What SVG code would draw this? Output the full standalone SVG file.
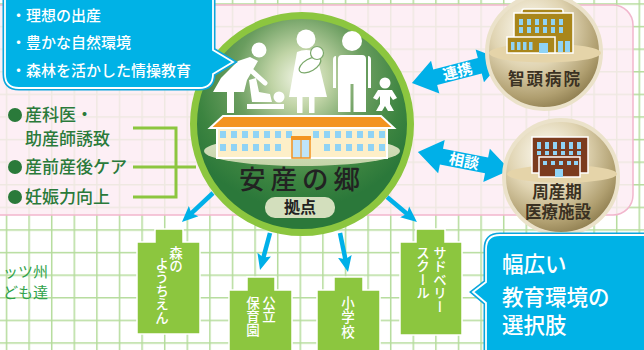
<svg xmlns="http://www.w3.org/2000/svg" width="644" height="350" viewBox="0 0 644 350">
  <style>
    text { font-family: "Noto Sans CJK JP", "Noto Sans", sans-serif; }
    .white { fill: #ffffff; }
    .callout-txt { fill: #ffffff; font-weight: 500; }
    .list-txt { fill: #2a7a3a; font-size: 17px; font-weight: 500; }
    .box { fill: #8cc63f; stroke: #ffffff; stroke-width: 1.5; }
    .box-txt { fill: #ffffff; font-size: 13.5px; writing-mode: vertical-rl; font-weight: 500; }
    .hosp-txt { fill: #3a3122; font-size: 16.5px; font-weight: 700; text-anchor: middle; }
    .arrow-down { stroke: #00b0e8; stroke-width: 4.5; fill: none; marker-end: url(#tip); }
    .bracket { stroke: #8cc63f; stroke-width: 3; fill: none; }
    .dbl { fill: #00b0e8; }
    .win { fill: #8fd3f5; }
  </style>
  <defs>
    <pattern id="grid" patternUnits="userSpaceOnUse" x="5.75" y="3.25" width="22.6" height="22.6">
      <path d="M0.75,0 V22.6 M0,0.75 H22.6" stroke="#b5dc9c" stroke-width="1.5" fill="none"/>
    </pattern>
    <radialGradient id="mainG" gradientUnits="userSpaceOnUse" cx="300" cy="78" r="130">
      <stop offset="0" stop-color="#f1f5e6"/>
      <stop offset="0.22" stop-color="#c0d4a6"/>
      <stop offset="0.5" stop-color="#6a9d5f"/>
      <stop offset="0.8" stop-color="#3c8440"/>
      <stop offset="1" stop-color="#2b783a"/>
    </radialGradient>
    <radialGradient id="sph" cx="0.38" cy="0.3" r="0.75">
      <stop offset="0" stop-color="#fffdf6"/>
      <stop offset="0.45" stop-color="#e0d4b2"/>
      <stop offset="0.8" stop-color="#b09f70"/>
      <stop offset="1" stop-color="#8a794b"/>
    </radialGradient>
    <linearGradient id="ground" x1="0" y1="0" x2="0" y2="1">
      <stop offset="0" stop-color="#d8e2c2"/>
      <stop offset="1" stop-color="#c4d4a8"/>
    </linearGradient>
    <marker id="tip" markerUnits="userSpaceOnUse" viewBox="0 0 16 16" markerWidth="16" markerHeight="16" refX="8" refY="8" orient="auto">
      <path d="M0,1 L16,8 L0,15 L3,8 Z" fill="#00b0e8"/>
    </marker>
  </defs>

  <!-- background grid and pink panel -->
  <rect width="644" height="350" fill="#ffffff"/>
  <rect width="644" height="350" fill="url(#grid)"/>
  <rect x="-20" y="5" width="653" height="210" rx="20" fill="#fdebf2" fill-opacity="0.8" stroke="#f2b6cd" stroke-width="1.5"/>

  <!-- connectors -->
  <g id="connectors">
    <path class="bracket" d="M133,128 H176 V197 H133 M133,167 H196"/>
    <line class="arrow-down" x1="213" y1="193" x2="187.8" y2="216.6"/>
    <line class="arrow-down" x1="270" y1="233" x2="262.1" y2="262.3"/>
    <line class="arrow-down" x1="340" y1="233" x2="346.4" y2="264.2"/>
    <line class="arrow-down" x1="387" y1="197" x2="410.8" y2="216.9"/>
    <g transform="translate(457.5,71.5) rotate(-14.2)">
      <polygon class="dbl" points="-47,0 -23,-17 -23,-8 23,-8 23,-17 47,0 23,17 23,8 -23,8 -23,17"/>
      <text x="0" y="5.5" class="white" font-size="15" font-weight="700" text-anchor="middle">連携</text>
    </g>
    <g transform="translate(464,161) rotate(11.1)">
      <polygon class="dbl" points="-47,0 -23,-17 -23,-8 23,-8 23,-17 47,0 23,17 23,8 -23,8 -23,17"/>
      <text x="0" y="5.5" class="white" font-size="15" font-weight="700" text-anchor="middle">相談</text>
    </g>
  </g>

  <!-- left list of goals -->
  <g id="goals">
    <circle cx="15" cy="115" r="7" fill="#2a7a3a"/>
    <text class="list-txt" x="25" y="121">産科医・</text>
    <text class="list-txt" x="25" y="145">助産師誘致</text>
    <circle cx="15" cy="167" r="7" fill="#2a7a3a"/>
    <text class="list-txt" x="25" y="173">産前産後ケア</text>
    <circle cx="15" cy="197" r="7" fill="#2a7a3a"/>
    <text class="list-txt" x="25" y="203">妊娠力向上</text>
  </g>

  <!-- partly visible note at the left edge -->
  <g id="edge-note" fill="#2fa24a" font-size="15" text-anchor="end">
    <text x="48" y="277">ッツ州</text>
    <text x="48" y="298">ども達</text>
  </g>

  <!-- central hub -->
  <g id="hub">
    <circle cx="302" cy="124" r="108.5" fill="url(#mainG)" stroke="#8cc63f" stroke-width="7"/>
    <ellipse cx="302" cy="151" rx="98" ry="15" fill="url(#ground)"/>
    <!-- people -->
    <g fill="#ffffff">
      <!-- caregiver at changing table -->
      <circle cx="259" cy="50" r="7.5"/>
      <path d="M250,57 L258,61 L247,80 L244,92 L213,92 L221,78 L238,61 Z"/>
      <path d="M246,66 L265,83" stroke="#ffffff" stroke-width="5" stroke-linecap="round"/>
      <rect x="227" y="91" width="7" height="22"/>
      <circle cx="279" cy="97" r="5.5"/>
      <path d="M249,80 L256,78 L259,92 L270,94 L272,102 L252,102 Z"/>
      <rect x="247" y="104" width="37" height="5"/>
      <!-- woman holding baby -->
      <circle cx="306" cy="39" r="9.5"/>
      <path d="M297,52 Q306,48 316,52 L327,97 L289,97 Z"/>
      <rect x="297" y="96" width="5.5" height="17"/>
      <rect x="309" y="96" width="5.5" height="17"/>
      <ellipse cx="310" cy="65" rx="12" ry="6" transform="rotate(-30 310 65)" stroke="#7aa86a" stroke-width="1.2"/>
      <circle cx="317" cy="53" r="6.5" stroke="#7aa86a" stroke-width="1.2"/>
      <!-- man -->
      <circle cx="352" cy="41" r="10"/>
      <path d="M342,55 H362 Q366,55 366,59 V112 H353.5 V84 H350.5 V112 H338 V59 Q338,55 342,55 Z"/>
      <path d="M333,60 Q333,56 336,56 V88 H333 Z M371,60 Q371,56 368,56 V88 H371 Z"/>
      <!-- small child -->
      <circle cx="385" cy="83" r="5.5"/>
      <path d="M378,90 H392 L397,98 L393,100 L390,96 V104 L394,111 H388 L385,106 L382,111 H376 L380,104 V96 L377,100 L373,98 Z"/>
    </g>
    <!-- school building -->
    <rect x="217" y="127" width="170" height="31" fill="#fdefc8" stroke="#ffffff" stroke-width="2"/>
    <polygon points="223,116 381,116 394,128 210,128" fill="#f39420" stroke="#ffffff" stroke-width="2"/>
    <g class="win">
      <rect x="220" y="131" width="6" height="7"/><rect x="231" y="131" width="6" height="7"/><rect x="242" y="131" width="6" height="7"/><rect x="253" y="131" width="6" height="7"/><rect x="264" y="131" width="6" height="7"/><rect x="275" y="131" width="6" height="7"/><rect x="286" y="131" width="6" height="7"/>
      <rect x="313" y="131" width="6" height="7"/><rect x="324" y="131" width="6" height="7"/><rect x="335" y="131" width="6" height="7"/><rect x="346" y="131" width="6" height="7"/><rect x="357" y="131" width="6" height="7"/><rect x="368" y="131" width="6" height="7"/><rect x="379" y="131" width="6" height="7"/>
      <rect x="220" y="144" width="6" height="7"/><rect x="231" y="144" width="6" height="7"/><rect x="242" y="144" width="6" height="7"/><rect x="253" y="144" width="6" height="7"/><rect x="264" y="144" width="6" height="7"/><rect x="275" y="144" width="6" height="7"/>
      <rect x="324" y="144" width="6" height="7"/><rect x="335" y="144" width="6" height="7"/><rect x="346" y="144" width="6" height="7"/><rect x="357" y="144" width="6" height="7"/><rect x="368" y="144" width="6" height="7"/><rect x="379" y="144" width="6" height="7"/>
    </g>
    <rect x="292" y="137" width="18" height="21" fill="#bfe4f8" stroke="#f39420" stroke-width="1.5"/>
    <rect x="291" y="136" width="20" height="4" fill="#f39420"/>
    <line x1="301" y1="140" x2="301" y2="158" stroke="#f39420" stroke-width="1.2"/>
    <text x="302" y="189" font-size="26.5" fill="#222222" text-anchor="middle" letter-spacing="5" font-weight="500">安産の郷</text>
    <rect x="265" y="197" width="70" height="21" rx="10" fill="#d3dfbd"/>
    <text x="300" y="213" font-size="16" fill="#222222" text-anchor="middle" font-weight="700">拠点</text>
  </g>

  <!-- top-left callout -->
  <g id="ideals">
    <path d="M19,-15 H199 Q213,-15 213,-1 V50 L233,62 L213,74 V74 Q213,88 199,88 H19 Q5,88 5,74 V-1 Q5,-15 19,-15 Z" fill="#00b2e6" stroke="#0aa6dc" stroke-width="5"/>
    <path d="M19,-15 H199 Q213,-15 213,-1 V50 L233,62 L213,74 V74 Q213,88 199,88 H19 Q5,88 5,74 V-1 Q5,-15 19,-15 Z" fill="#00b2e6" stroke="#ffffff" stroke-width="1.8"/>
    <text class="callout-txt" x="11" y="20.5" font-size="15">・理想の出産</text>
    <text class="callout-txt" x="11" y="48" font-size="15">・豊かな自然環境</text>
    <text class="callout-txt" x="11" y="75.5" font-size="15">・森林を活かした情操教育</text>
  </g>

  <!-- Chizu hospital -->
  <g id="chizu-hospital">
    <circle cx="544" cy="52" r="57" fill="url(#sph)" stroke="#ebe2ca" stroke-width="4"/>
    <ellipse cx="545" cy="53" rx="56" ry="9.5" fill="#e5d4a9"/>
    <rect x="522" y="9" width="41" height="6" rx="2" fill="#a9861b" stroke="#ffffff" stroke-width="1.5"/>
    <rect x="514" y="13" width="59" height="40" fill="#a9861b" stroke="#ffffff" stroke-width="1.5"/>
    <g class="win">
      <rect x="519" y="19" width="4" height="6"/><rect x="527" y="19" width="4" height="6"/><rect x="535" y="19" width="4" height="6"/><rect x="543" y="19" width="4" height="6"/><rect x="551" y="19" width="4" height="6"/><rect x="559" y="19" width="4" height="6"/>
      <rect x="519" y="27" width="4" height="6"/><rect x="527" y="27" width="4" height="6"/><rect x="535" y="27" width="4" height="6"/><rect x="543" y="27" width="4" height="6"/><rect x="551" y="27" width="4" height="6"/><rect x="559" y="27" width="4" height="6"/>
      <rect x="558" y="41" width="5" height="11"/><rect x="565" y="41" width="5" height="11"/>
    </g>
    <rect x="507" y="37" width="48" height="16" fill="#a9861b" stroke="#ffffff" stroke-width="1.5"/>
    <g class="win">
      <rect x="511" y="42" width="3.5" height="8"/><rect x="517" y="42" width="3.5" height="8"/><rect x="523" y="42" width="3.5" height="8"/><rect x="529" y="42" width="3.5" height="8"/>
      <rect x="539" y="43" width="9" height="10"/>
    </g>
    <text class="hosp-txt" x="545" y="85" letter-spacing="2">智頭病院</text>
  </g>

  <!-- perinatal medical facility -->
  <g id="perinatal-facility">
    <circle cx="561" cy="177" r="57" fill="url(#sph)" stroke="#ebe2ca" stroke-width="4"/>
    <ellipse cx="562" cy="174" rx="55" ry="9" fill="#e5d4a9"/>
    <rect x="532" y="137" width="56" height="36" fill="#7b3b1e" stroke="#ffffff" stroke-width="1.5"/>
    <g class="win">
      <rect x="537" y="142" width="4" height="7"/><rect x="545" y="142" width="4" height="7"/><rect x="553" y="142" width="4" height="7"/><rect x="561" y="142" width="4" height="7"/><rect x="569" y="142" width="4" height="7"/><rect x="577" y="142" width="4" height="7"/>
      <rect x="537" y="151" width="4" height="4"/><rect x="545" y="151" width="4" height="4"/><rect x="553" y="151" width="4" height="4"/><rect x="561" y="151" width="4" height="4"/><rect x="569" y="151" width="4" height="4"/><rect x="577" y="151" width="4" height="4"/>
    </g>
    <rect x="539" y="157" width="41" height="20" fill="#7b3b1e" stroke="#ffffff" stroke-width="1.5"/>
    <g class="win">
      <rect x="543" y="161" width="4" height="4"/><rect x="551" y="161" width="4" height="4"/><rect x="559" y="161" width="4" height="4"/><rect x="567" y="161" width="4" height="4"/><rect x="574" y="161" width="4" height="4"/>
      <rect x="555" y="169" width="8" height="8"/>
    </g>
    <text class="hosp-txt" x="557" y="198">周産期</text>
    <text class="hosp-txt" x="558" y="218">医療施設</text>
  </g>

  <!-- education options -->
  <g id="forest-kindergarten">
    <path class="box" d="M137,242 H155 V229 H183 V242 H200 V334 H137 Z"/>
    <text class="box-txt" x="176" y="246">森の</text>
    <text class="box-txt" x="162" y="257">ようちえん</text>
  </g>
  <g id="public-nursery">
    <path class="box" d="M229,290 H247 V277 H275 V290 H292 V360 H229 Z"/>
    <text class="box-txt" x="269" y="296" font-size="14">公立</text>
    <text class="box-txt" x="253" y="296" font-size="14">保育園</text>
  </g>
  <g id="elementary-school">
    <path class="box" d="M317,290 H334 V277 H363 V290 H380 V360 H317 Z"/>
    <text class="box-txt" x="348" y="296" font-size="14" letter-spacing="1">小学校</text>
  </g>
  <g id="sudbury-school">
    <path class="box" d="M400,242 H416 V229 H445 V242 H462 V335 H400 Z"/>
    <text class="box-txt" x="440" y="246">サドベリー</text>
    <text class="box-txt" x="423" y="246">スクール</text>
  </g>

  <!-- bottom-right callout -->
  <g id="choices">
    <path d="M500,235 H650 V365 H500 Q486,365 486,351 V303 L473,292 L486,282 V249 Q486,235 500,235 Z" fill="#00b2e6" stroke="#0aa6dc" stroke-width="5"/>
    <path d="M500,235 H650 V365 H500 Q486,365 486,351 V303 L473,292 L486,282 V249 Q486,235 500,235 Z" fill="#00b2e6" stroke="#ffffff" stroke-width="1.8"/>
    <text class="callout-txt" x="502" y="272" font-size="21.5">幅広い</text>
    <text class="callout-txt" x="502" y="305" font-size="21.5">教育環境の</text>
    <text class="callout-txt" x="502" y="333" font-size="21.5">選択肢</text>
  </g>
</svg>
